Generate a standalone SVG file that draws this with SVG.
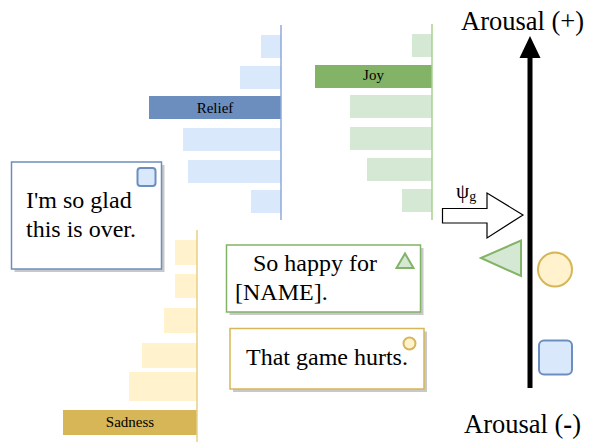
<svg xmlns="http://www.w3.org/2000/svg" width="595" height="443" viewBox="0 0 595 443" font-family="Liberation Serif, Times New Roman, serif">
<style>
.lbl{font-size:15px;text-anchor:middle}
.big{font-size:24px}
.ax{font-size:26.5px}
.bb{fill:#dae8fc}
.gb{fill:#d5e8d4}
.yb{fill:#fff2cc}
.shadow{fill:#c8c8c8}
.box{fill:#fff;stroke-width:1.5}
</style>
<rect width="595" height="443" fill="#fff"/>
<g id="relief-chart">
<rect class="bb" x="261" y="35" width="20" height="23"/>
<rect class="bb" x="240" y="66" width="41" height="23"/>
<rect x="149" y="96" width="132" height="23" fill="#6c8ebf"/>
<text class="lbl" x="215" y="113" font-family="Liberation Serif, serif">Relief</text>
<rect class="bb" x="183" y="128" width="98" height="23"/>
<rect class="bb" x="188" y="160" width="93" height="23"/>
<rect class="bb" x="251" y="190" width="30" height="23"/>
<line x1="281" y1="25" x2="281" y2="220" stroke="#8eaad8" stroke-width="1.5"/>
</g>
<g id="joy-chart">
<rect class="gb" x="412" y="34" width="20" height="23"/>
<rect x="315" y="65" width="117" height="23" fill="#82b366"/>
<text class="lbl" x="373.5" y="80" font-family="Liberation Serif, serif">Joy</text>
<rect class="gb" x="350" y="95" width="82" height="23"/>
<rect class="gb" x="350" y="127" width="82" height="23"/>
<rect class="gb" x="367" y="158" width="65" height="23"/>
<rect class="gb" x="402" y="189" width="30" height="23"/>
<line x1="432" y1="24" x2="432" y2="220" stroke="#a9d18e" stroke-width="1.5"/>
</g>
<g id="sadness-chart">
<rect class="yb" x="175" y="240" width="22" height="25"/>
<rect class="yb" x="175" y="274" width="22" height="24"/>
<rect class="yb" x="164" y="308" width="33" height="25"/>
<rect class="yb" x="142" y="343" width="55" height="25"/>
<rect class="yb" x="129" y="372" width="68" height="29"/>
<rect x="63" y="410" width="134" height="25" fill="#d6b656"/>
<text class="lbl" x="130" y="427" font-family="Liberation Serif, serif">Sadness</text>
<line x1="197" y1="230" x2="197" y2="442" stroke="#e6cf85" stroke-width="1.5"/>
</g>
<g id="box-relief" font-family="Liberation Serif, serif">
<rect class="shadow" x="14.5" y="165" width="150" height="107"/>
<rect class="box" x="11.5" y="162" width="150" height="107" stroke="#6c8ebf"/>
<rect x="137.5" y="168" width="18" height="18" rx="3" fill="#dae8fc" stroke="#6c8ebf" stroke-width="2"/>
<text class="big" x="26" y="208">I'm so glad</text>
<text class="big" x="26" y="237">this is over.</text>
</g>
<g id="box-joy" font-family="Liberation Serif, serif">
<rect class="shadow" x="229.5" y="248" width="194" height="67"/>
<rect class="box" x="226.5" y="245" width="194" height="67" stroke="#82b366"/>
<polygon points="405,253.5 396.5,268 413.5,268" fill="#d5e8d4" stroke="#82b366" stroke-width="2"/>
<text class="big" x="253" y="271">So happy for</text>
<text class="big" x="235" y="300">[NAME].</text>
</g>
<g id="box-sadness" font-family="Liberation Serif, serif">
<rect class="shadow" x="233" y="331.5" width="194" height="60.5"/>
<rect class="box" x="230" y="328.5" width="194" height="60.5" stroke="#d6b656"/>
<circle cx="409.5" cy="343.5" r="6" fill="#fff2cc" stroke="#d6b656" stroke-width="2"/>
<text class="big" x="246" y="365">That game hurts.</text>
</g>
<g id="psi-arrow" font-family="Liberation Serif, serif">
<polygon points="442.5,208.5 487,208.5 487,193 523,215 487,238 487,223 442.5,223" fill="#fff" stroke="#000" stroke-width="1.2"/>
<text x="456" y="198" font-size="21">ψ<tspan font-size="14" dy="3">g</tspan></text>
</g>
<g id="connectors">
<line x1="530" y1="55" x2="530" y2="388" stroke="#000" stroke-width="5"/>
<polygon points="530,36 519.5,58 540.5,58" fill="#000"/>
</g>
<g id="axis-labels" font-family="Liberation Serif, serif">
<text class="ax" x="461" y="30">Arousal (+)</text>
<text class="ax" x="464" y="433">Arousal (<tspan font-weight="bold">-</tspan>)</text>
</g>
<g id="markers">
<polygon points="481,258 521,240.5 521,276" fill="#d5e8d4" stroke="#82b366" stroke-width="2"/>
<circle cx="555" cy="269.5" r="17" fill="#fff2cc" stroke="#d6b656" stroke-width="2"/>
<rect x="539" y="340.5" width="33" height="34" rx="5" fill="#dae8fc" stroke="#6c8ebf" stroke-width="2"/>
</g>
</svg>
